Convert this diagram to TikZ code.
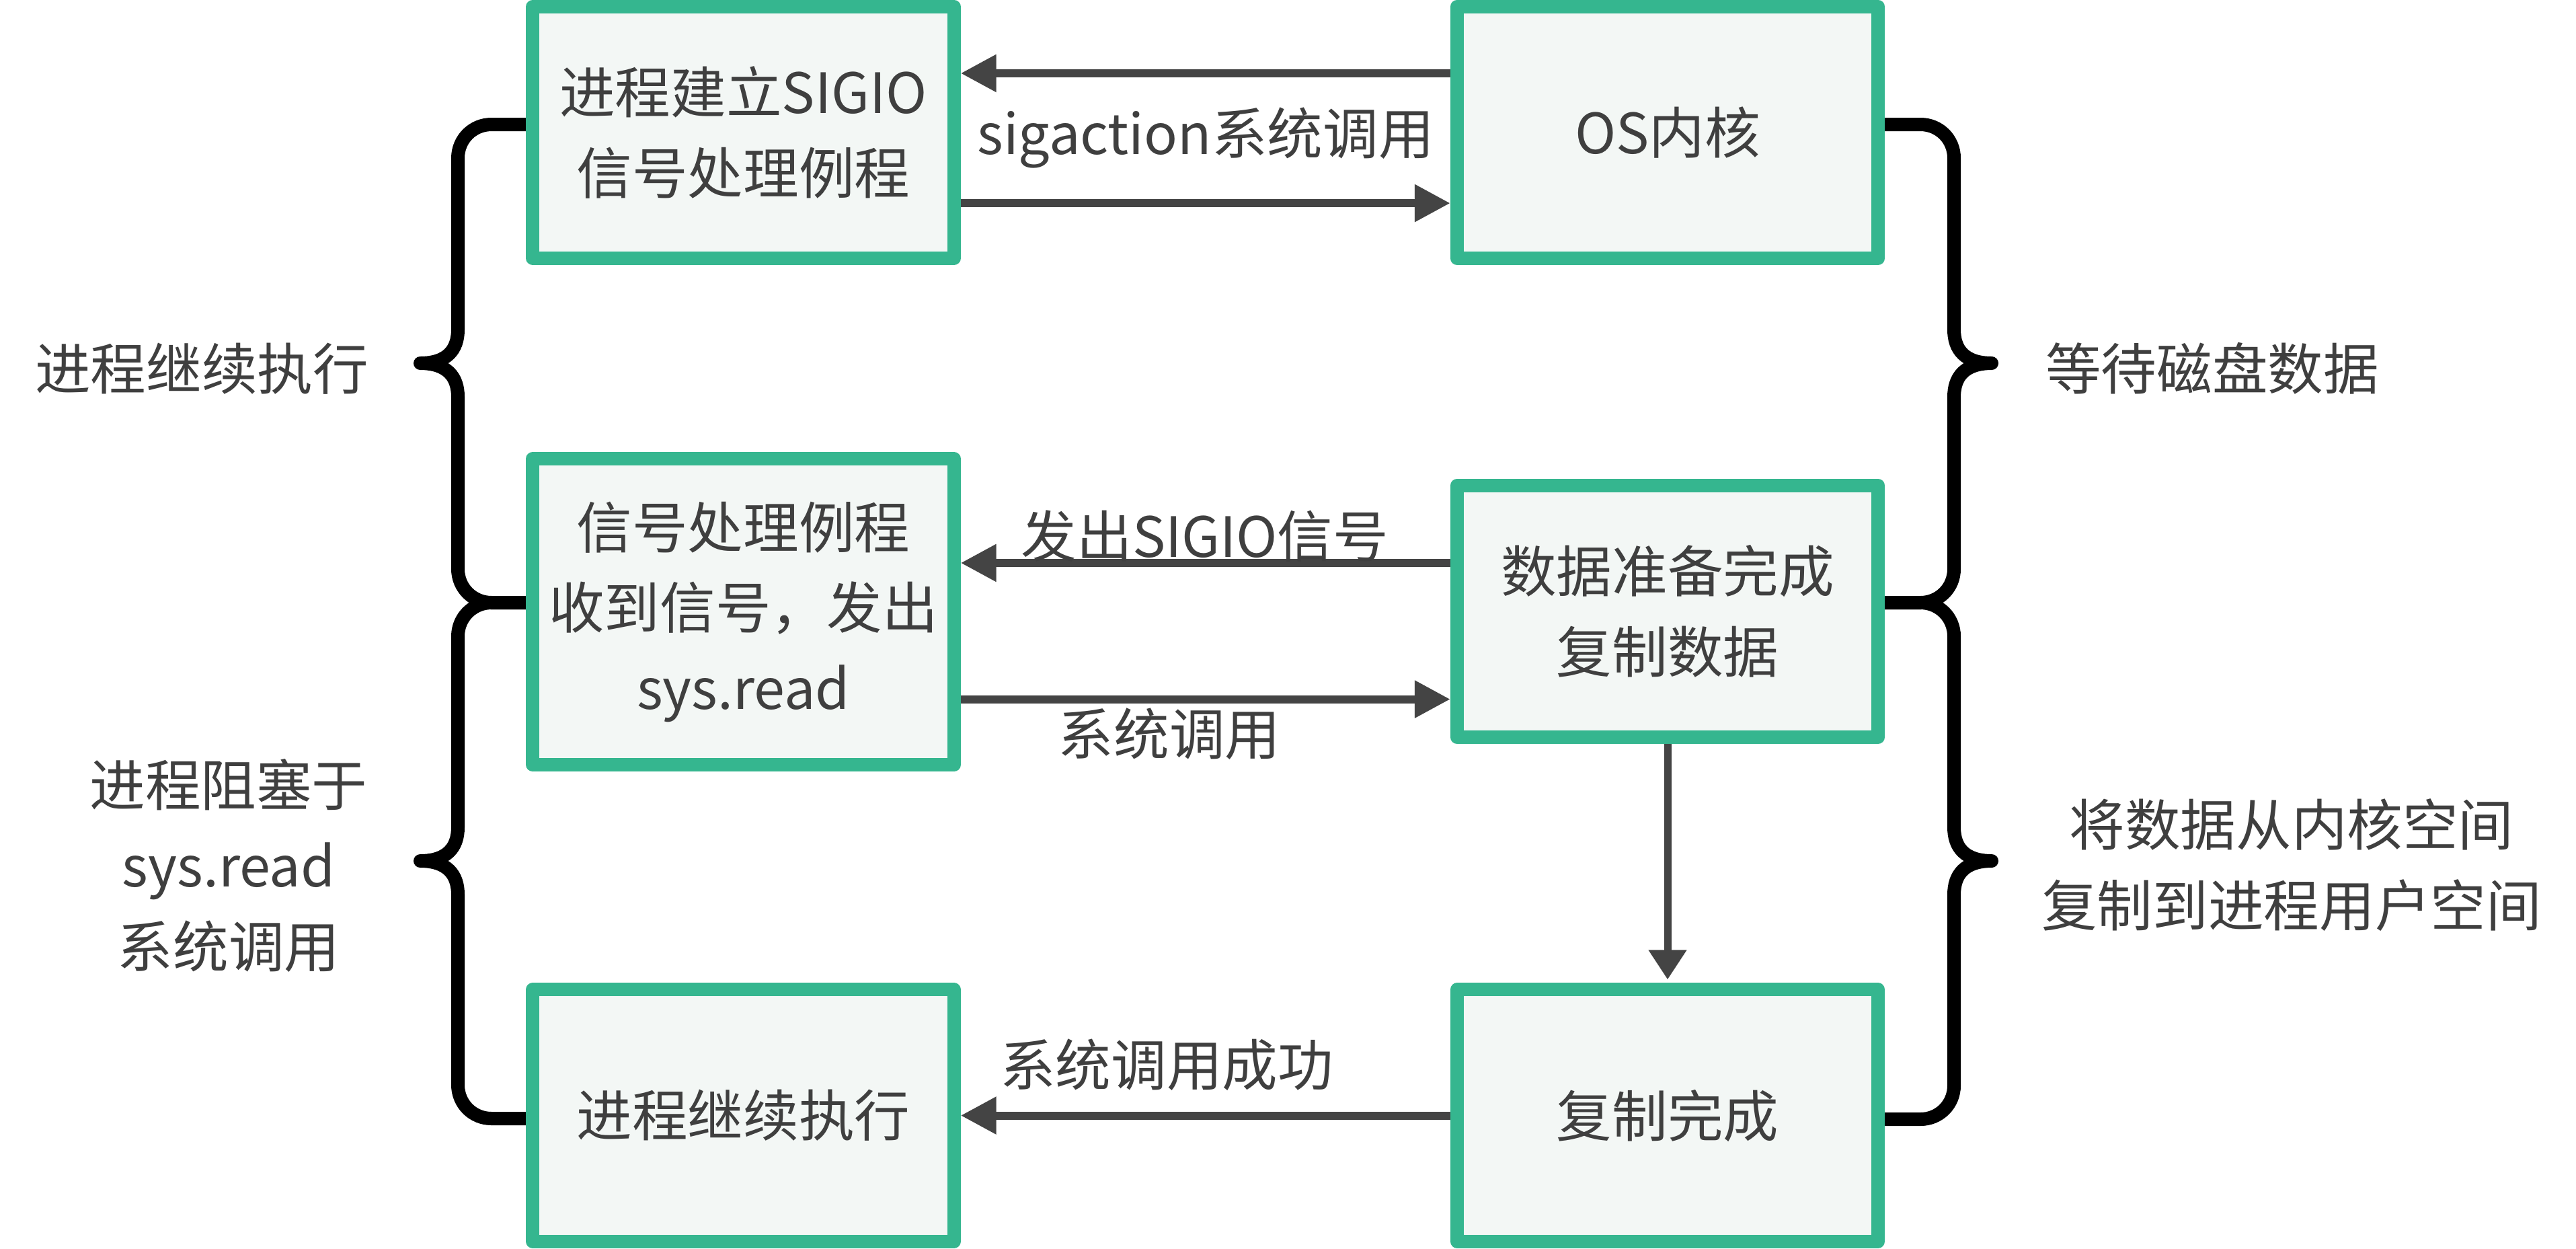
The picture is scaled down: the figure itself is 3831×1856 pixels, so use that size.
\documentclass[tikz,border=0pt]{standalone}
\usepackage{fontspec}
\setmainfont{Noto Sans CJK SC}
\usepackage{tikz}
\usetikzlibrary{arrows.meta}

\definecolor{boxgreen}{HTML}{35B68F}
\definecolor{boxfill}{HTML}{F3F7F5}
\definecolor{arrowgray}{HTML}{444444}
\definecolor{textgray}{HTML}{3F3F3F}

\tikzset{
  stepbox/.style={draw=boxgreen, fill=boxfill, line width=0.2cm, line join=round,
    minimum width=6.26cm, minimum height=3.74cm, inner sep=0pt, align=center,
    text=textgray, font=\fontsize{23.5}{34}\selectfont},
  tallbox/.style={minimum height=4.55cm},
  flow/.style={draw=arrowgray, line width=0.12cm, -{Triangle[length=0.53cm,width=0.53cm]}},
  downflow/.style={draw=arrowgray, line width=0.11cm,
    -{Triangle[length=0.44cm,width=0.54cm]}},
  note/.style={text=textgray, align=center, inner sep=0pt, font=\fontsize{23.5}{34}\selectfont},
  curl/.style={draw=black, line width=0.2cm, line cap=round, line join=round},
}

% #1 side (-1 left, 1 right), #2 bar x, #3 top y, #4 bottom y, #5 tip y
\newcommand{\curlybrace}[5]{%
  \draw[curl] ({#2-112*(#1)},#3) -- ({#2-50*(#1)},#3)
    .. controls ({#2-22*(#1)},#3) and (#2,{#3+22}) .. (#2,{#3+50})
    -- (#2,{#5-50}) .. controls (#2,{#5-20}) and ({#2+16*(#1)},#5) .. ({#2+56*(#1)},#5)
    .. controls ({#2+16*(#1)},#5) and (#2,{#5+20}) .. (#2,{#5+50})
    -- (#2,{#4-50}) .. controls (#2,{#4-22}) and ({#2-22*(#1)},#4) .. ({#2-50*(#1)},#4)
    -- ({#2-112*(#1)},#4);}

\begin{document}
\begin{tikzpicture}[x=0.01cm, y=-0.01cm]
\useasboundingbox (0,0) rectangle (3831,1856);

% braces
\curlybrace{-1}{681}{185}{896}{540}
\curlybrace{-1}{681}{896}{1663}{1280}
\curlybrace{1}{2906}{185}{896}{540}
\curlybrace{1}{2906}{896}{1664}{1280}

% boxes
\node[stepbox] (setup) at (1105.5,197) {进程建立SIGIO\\信号处理例程};
\node[stepbox] (kernel) at (2480,197) {OS内核};
\node[stepbox, tallbox] (handler) at (1105.5,909.5) {信号处理例程\\收到信号，发出\\sys.read};
\node[stepbox] (ready) at (2480,909) {数据准备完成\\复制数据};
\node[stepbox] (resume) at (1105.5,1658.5) {进程继续执行};
\node[stepbox] (done) at (2480,1658.5) {复制完成};

% arrows
\draw[flow] ([yshift=0.88cm]kernel.west) -- ([yshift=0.88cm]setup.east);
\draw[flow] ([yshift=-1.05cm]setup.east) -- ([yshift=-1.05cm]kernel.west);
\draw[flow] ([yshift=0.72cm]ready.west) -- ([yshift=0.72cm]ready.west -| handler.east);
\draw[flow] ([yshift=-1.3cm]handler.east) -- ([yshift=-1.3cm]handler.east -| ready.west);
\draw[downflow] (ready.south) -- ([yshift=0.05cm]done.north);
\draw[flow] (done.west) -- (resume.east);

% labels
\node[note] (sigcall) at (1793,205) {sigaction系统调用};
\node[note] (sigsend) at (1792,797) {发出SIGIO信号};
\node[note] (readcall) at (1739,1091) {系统调用};
\node[note] (okcall) at (1735,1583) {系统调用成功};
\node[note] (runnote) at (300,548) {进程继续执行};
\node[note] (blocknote) at (340,1287) {进程阻塞于\\sys.read\\系统调用};
\node[note] (waitnote) at (3290,548) {等待磁盘数据};
\node[note] (copynote) at (3408,1286) {将数据从内核空间\\复制到进程用户空间};
\end{tikzpicture}
\end{document}
